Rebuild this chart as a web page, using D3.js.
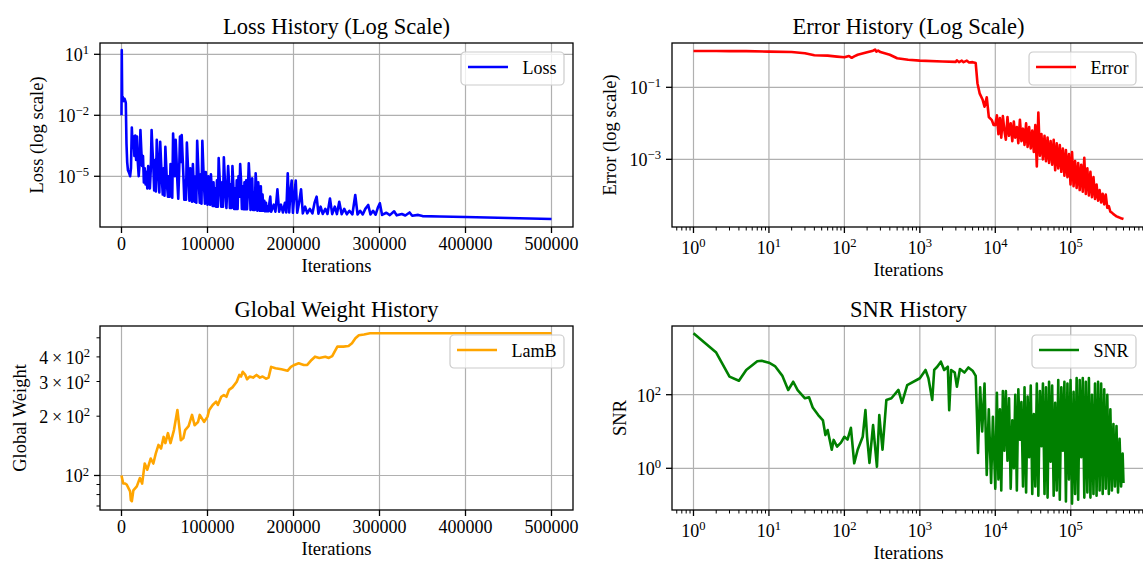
<!DOCTYPE html>
<html>
<head>
<meta charset="utf-8">
<script src="https://cdn.jsdelivr.net/npm/d3@7"></script>
<style>
    body { margin: 0; background: #ffffff; }
    text { font-family: "Liberation Serif", "DejaVu Serif", serif; fill: #000000; }
</style>
</head>
<body>
<svg id="chart" width="1143" height="564"></svg>
<script>

// ---- Loss history (linear x)
var lossIter = [
    0, 300, 800, 1500, 2500, 3500, 4500, 5000, 5800, 6600,
    7500, 8500, 9500,
    10000, 11000, 12000, 13000, 14000, 15000, 16000, 17000, 18000, 19000,
    20000, 21000, 22000, 23000, 24000, 25000, 26000, 27000, 28000, 29000,
    30000, 31000, 32000, 33000, 34000, 35000, 36000, 37000, 38000, 39000,
    40000, 41000, 42000, 43000, 44000, 45000, 46000, 47000, 48000, 49000,
    50000, 51000, 52000, 53000, 54000, 55000, 56000, 57000, 58000, 59000,
    60000, 61000, 62000, 63000, 64000, 65000, 66000, 67000, 68000, 69000,
    70000, 71000, 72000, 73000, 74000, 75000, 76000, 77000, 78000, 79000,
    80000, 81000, 82000, 83000, 84000, 85000, 86000, 87000, 88000, 89000,
    90000, 91000, 92000, 93000, 94000, 95000, 96000, 97000, 98000, 99000,
    100000, 101000, 102000, 103000, 104000, 105000, 106000, 107000, 108000, 109000,
    110000, 111000, 112000, 113000, 114000, 115000, 116000, 117000, 118000, 119000,
    120000, 121000, 122000, 123000, 124000, 125000, 126000, 127000, 128000, 129000,
    130000, 131000, 132000, 133000, 134000, 135000, 136000, 137000, 138000, 139000,
    140000, 141000, 142000, 143000, 144000, 145000, 146000, 147000, 148000, 149000,
    150000, 151000, 152000, 153000, 154000, 155000, 156000, 157000, 158000, 159000,
    160000, 161000, 162000, 163000, 164000, 165000, 166000, 167000, 168000, 169000,
    170000, 171000, 172000, 173000, 174000,
    177000, 179000, 181300, 183300, 185500, 187700, 190000, 191600, 193300, 195000,
    196400, 197900, 199300, 201000, 202600, 204300, 206500, 208800, 210800, 213500,
    216000, 219000, 222000, 224500, 226900, 229000, 231500, 234000, 237000, 239500,
    242400, 245000, 248000, 250500, 253200, 256000, 259000, 262000, 265000, 268500,
    271800, 274500, 277500, 280500, 283500, 286900, 289500, 292500, 295500, 298000,
    300400, 303000, 308000, 312000, 317000, 320000, 326000, 330000, 335000, 338000,
    345000, 350000, 370000, 400000, 450000, 500000
]
var lossVal = [
    1e-2, 16, 0.06, 0.08, 0.05, 0.065, 0.05, 0.04, 4e-4, 5e-5,
    2e-5, 1.6e-5, 1.2e-5,
    1e-5, 2.5e-5, 2.5e-3, 2.5e-4, 8.9e-4, 1e-4, 1e-3, 6.3e-5, 8.9e-4, 5e-5,
    1e-5, 4e-5, 1.9e-3, 2e-4, 3.2e-5, 1e-4, 5e-6, 2.5e-5, 4e-6, 1.6e-5,
    2.5e-6, 3.2e-5, 6.3e-6, 2.5e-6, 2e-5, 1.9e-3, 2e-4, 3.2e-5, 2e-6, 6.3e-5,
    1.8e-6, 6.3e-4, 7.9e-5, 1e-5, 1.6e-6, 5e-4, 5e-5, 6.3e-6, 1.26e-6, 2.5e-5,
    1.1e-6, 2.8e-4, 3.2e-5, 3.2e-6, 1e-6, 1e-5, 1e-6, 4e-5, 2.5e-6, 8.9e-7,
    1.26e-3, 1e-4, 1e-5, 6.3e-4, 6.3e-5, 5e-6, 7.9e-7, 1.6e-5, 8.9e-4, 5e-5,
    1.07e-3, 1e-4, 1e-5, 7.1e-7, 6.3e-6, 7.1e-7, 4.5e-4, 5e-5, 6.3e-6, 6.3e-7,
    2.5e-5, 2.5e-6, 5.6e-7, 4e-5, 3.2e-6, 5.6e-7, 1e-5, 5e-7, 5.6e-4, 5e-5,
    4e-6, 5e-7, 1.26e-5, 4.5e-7, 5.6e-4, 4e-5, 3.2e-6, 4.5e-7, 1.6e-5, 2.5e-6,
    4e-7, 1e-5, 1.6e-6, 4e-7, 1.26e-5, 2e-6, 3.5e-7, 5e-6, 3.5e-7, 2.5e-6,
    3.2e-7, 6.3e-6, 3.2e-7, 7.9e-5, 1e-5, 1.6e-6, 3.2e-7, 5e-6, 3.2e-7, 8.5e-5,
    1e-5, 1.26e-6, 2.8e-7, 3.2e-6, 3.2e-5, 5e-6, 2.8e-7, 4e-6, 2.8e-7, 3.2e-5,
    4e-6, 2.5e-7, 2.5e-6, 2.5e-7, 6.3e-6, 2.5e-7, 1e-5, 1e-6, 4e-5, 6.3e-6,
    2.5e-7, 3.2e-6, 2.4e-7, 5e-6, 2.4e-7, 6.3e-6, 2.4e-7, 2.5e-6, 4.3e-5, 6.3e-6,
    2.2e-7, 3.2e-6, 7.9e-6, 2.2e-7, 1.6e-6, 2.2e-7, 1.4e-5, 2.5e-6, 2e-7, 5e-6,
    1e-6, 2e-7, 3.2e-6, 2e-7, 1.26e-6, 2e-7, 6.3e-7, 1.9e-7, 5e-7, 1.9e-7,
    3.2e-7, 1.9e-7, 5e-7, 1e-6, 1.8e-7,
    4e-7, 1.8e-7, 2.3e-6, 1.8e-7, 4e-7, 1.66e-7, 5e-7, 1.66e-7, 1.4e-5, 1.66e-7,
    1.6e-6, 6.2e-6, 1.6e-7, 1.26e-6, 6.2e-6, 1.6e-7, 5e-7, 2.3e-6, 1.5e-7, 3.2e-7,
    1.5e-7, 2.5e-7, 1.48e-7, 5e-7, 1e-6, 1.45e-7, 3.2e-7, 1.4e-7, 2.5e-7, 1.4e-7,
    8.1e-7, 1.38e-7, 3.2e-7, 1.38e-7, 5.6e-7, 1.35e-7, 2.5e-7, 1.35e-7, 2e-7, 1.35e-7,
    1.2e-6, 1.32e-7, 2e-7, 1.32e-7, 2.5e-7, 3.9e-7, 1.32e-7, 2e-7, 1.29e-7, 2.8e-7,
    4.7e-7, 1.26e-7, 1.6e-7, 1.23e-7, 1.9e-7, 1.2e-7, 1.4e-7, 1.17e-7, 1.66e-7, 1.15e-7,
    1.26e-7, 1.1e-7, 1.05e-7, 1e-7, 8.9e-8, 7.9e-8
]

// ---- shared iteration grid for the noisy tails of the log-x plots
var tailIter = [
    10000, 10500, 11000, 11500, 12000, 12600, 13200, 13800, 14500, 15200,
    16000, 16800, 17600, 18400, 19300, 20200, 21200, 22200, 23300, 24400,
    25600, 26800, 28100, 29500, 30900, 32400, 33900, 35500, 37200, 39000,
    40900, 42800, 44900, 47000, 49300, 51600, 54100, 56700, 59400, 62200,
    65200, 68300, 71600, 75000, 78600, 82400, 86300, 90400, 94800, 99300,
    104000, 109000, 114200, 119700, 125400, 131400, 137700, 144300, 151200, 158400,
    166000, 174000, 182300, 191000, 200100, 209700, 219800, 230300, 241300, 252900,
    265000, 277700, 291000, 305000, 319600, 334900, 351000, 367800, 385400, 403900,
    423300, 443600, 464900, 487200, 500000
]

// ---- Error history (log x)
var errHeadIter = [
    1, 2, 3, 5, 10, 20, 30, 40, 60, 80,
    100, 115, 125, 135, 150, 200, 240, 255, 265, 280,
    300, 400, 500, 700, 1000, 2000, 3000, 3100, 3300, 3600,
    3800, 4200, 4500, 5000, 5500, 5800, 6200, 6800, 7200, 7700,
    8200, 9000, 9500
]
var errHeadVal = [
    1.02, 1.02, 1.01, 1.01, 0.98, 0.96, 0.88, 0.78, 0.76, 0.71,
    0.68, 0.74, 0.66, 0.72, 0.8, 0.94, 1.04, 1.12, 0.98, 1.05,
    0.95, 0.8, 0.64, 0.58, 0.55, 0.52, 0.51, 0.56, 0.5, 0.55,
    0.5, 0.55, 0.49, 0.5, 0.47, 0.13, 0.068, 0.045, 0.029, 0.053,
    0.015, 0.0123, 0.009
]
var errTailVal = [
    8.9e-3, 1.66e-2, 5e-3, 1.4e-2, 4e-3, 1.58e-2, 6.3e-3, 3.5e-3, 1.5e-2, 4.5e-3,
    1e-2, 3.2e-3, 1.12e-2, 4e-3, 7.9e-3, 2.8e-3, 1.26e-2, 3.2e-3, 7.1e-3, 2.5e-3,
    1e-2, 2.2e-3, 7.9e-3, 2e-3, 6.3e-3, 1.6e-3, 8.9e-3, 6.3e-4, 2e-2, 1.26e-3,
    5e-3, 1e-3, 4.5e-3, 8.9e-4, 4e-3, 7.9e-4, 3.2e-3, 7.1e-4, 3.5e-3, 5e-4,
    2.8e-3, 5.6e-4, 2.5e-3, 4.5e-4, 2e-3, 3.5e-4, 1.8e-3, 3.2e-4, 1.4e-3, 2e-4,
    1.6e-3, 1.8e-4, 8.9e-4, 1.6e-4, 7.9e-4, 1.4e-4, 7.1e-4, 1.26e-4, 1.1e-3, 1.1e-4,
    5.6e-4, 1e-4, 4.5e-4, 8.9e-5, 3.2e-4, 7.9e-5, 2e-4, 7.1e-5, 1.4e-4, 6.3e-5,
    1.1e-4, 5.6e-5, 1.05e-4, 4.5e-5, 5e-5, 3.5e-5, 3.3e-5, 3e-5, 2.8e-5, 2.6e-5,
    2.5e-5, 2.4e-5, 2.3e-5, 2.24e-5, 2.2e-5
]

// ---- Global weight history (linear x)
var lamIter = [
    0, 2000, 4300, 6000, 10000, 10900, 12000, 13800, 17800, 21300,
    24000, 27000, 30000, 34000, 37000, 40000, 43000, 46000, 49000, 51000,
    54000, 57000, 61000, 65000, 69000, 72000, 74000, 78000, 82000, 85000,
    89000, 91000, 96000, 100000, 102000, 106000, 110000, 112000, 116000, 119000,
    122000, 125000, 129000, 134000, 137000, 139000, 141000, 144000, 146000, 149000,
    153000, 157000, 161000, 164000, 168000, 171000, 174000, 179000, 186000, 193000,
    197000, 201000, 206000, 212000, 216000, 221000, 225000, 230000, 237000, 241000,
    245000, 251000, 258000, 264000, 268000, 272000, 276000, 282000, 289000, 300000,
    400000, 500000
]
var lamVal = [
    100, 91, 91, 90, 83, 75, 74, 84, 88, 97,
    91, 115, 107, 122, 115, 130, 143, 137, 157, 146,
    164, 146, 170, 215, 151, 155, 170, 178, 203, 180,
    187, 203, 187, 199, 215, 228, 237, 228, 251, 256,
    251, 272, 280, 299, 324, 318, 336, 324, 308, 318,
    314, 324, 314, 318, 310, 314, 356, 350, 346, 340,
    356, 364, 371, 364, 364, 386, 401, 395, 401, 395,
    404, 451, 451, 454, 469, 497, 515, 520, 527, 527,
    527, 527
]

// ---- SNR history (log x)
var snrHeadIter = [
    1, 2, 3, 4, 5, 6, 7, 8, 10, 12,
    15, 18, 21, 24, 30, 34, 38, 45, 52, 56,
    60, 68, 72, 80, 90, 100, 110, 122, 135, 150,
    175, 190, 200, 215, 240, 270, 290, 320, 360, 420,
    520, 580, 680, 1000, 1190, 1300, 1460, 1550, 1700, 1900,
    2100, 2350, 2450, 2600, 2900, 3100, 3400, 3900, 4400, 5000,
    5500, 5700, 5900, 6300, 6700, 7200, 7700, 8200, 8800, 9300
]
var snrHeadVal = [
    4700, 1400, 310, 240, 470, 630, 810, 840, 740, 600,
    330, 134, 225, 134, 80, 85, 45, 28, 20, 8,
    11, 3.2, 5.9, 3.9, 5, 7.2, 6, 12.6, 1.37, 3.2,
    7.2, 38, 7, 1.4, 15, 1.1, 28, 3.2, 72, 80,
    135, 60, 183, 280, 470, 280, 72, 470, 575, 790,
    470, 575, 38, 470, 400, 165, 500, 400, 550, 450,
    325, 31, 2.6, 160, 10, 200, 0.66, 40, 0.4, 25
]
var snrTailVal = [
    0.28, 112, 0.5, 40, 0.25, 126, 3, 126, 1.6, 80,
    0.28, 20, 1, 100, 0.25, 141, 6, 63, 0.32, 158,
    0.22, 89, 2, 178, 0.2, 30, 0.32, 200, 0.18, 126,
    4, 200, 0.2, 158, 0.16, 224, 1.5, 178, 0.18, 60,
    0.25, 251, 0.14, 158, 3, 224, 0.126, 200, 0.5, 251,
    0.11, 120, 0.2, 282, 0.14, 251, 2, 282, 0.16, 224,
    0.22, 282, 0.16, 100, 0.2, 200, 0.18, 224, 0.25, 200,
    0.2, 141, 0.28, 100, 0.2, 40, 0.25, 16, 0.32, 14,
    0.22, 6.3, 0.32, 2.5, 0.4
]

var linTicks = [0, 100000, 200000, 300000, 400000, 500000]
var logXExps = [0, 1, 2, 3, 4, 5]

var svg = d3.select("#chart")

var W = 473, H = 184

var panels = [
    {
        id: "loss", left: 100, top: 43, xType: "lin",
        xDomain: [-25000, 525000], yDomain: [3.2e-8, 36],
        iter: lossIter, val: lossVal, color: "#0000ff",
        title: "Loss History (Log Scale)", ylabel: "Loss (log scale)", ylabelX: 42.5,
        legend: "Loss", yExps: [1, -2, -5]
    },
    {
        id: "err", left: 672, top: 43, xType: "log",
        xDomain: [0.519, 9.64e5], yDomain: [1.32e-5, 1.7],
        iter: errHeadIter.concat(tailIter), val: errHeadVal.concat(errTailVal), color: "#ff0000",
        title: "Error History (Log Scale)", ylabel: "Error (log scale)", ylabelX: 615.5,
        legend: "Error", yExps: [-1, -3]
    },
    {
        id: "lam", left: 100, top: 326, xType: "lin",
        xDomain: [-25000, 525000], yDomain: [66.8, 574],
        iter: lamIter, val: lamVal, color: "#ffa500",
        title: "Global Weight History", ylabel: "Global Weight", ylabelX: 26,
        legend: "LamB", yExps: [2]
    },
    {
        id: "snr", left: 672, top: 326, xType: "log",
        xDomain: [0.519, 9.64e5], yDomain: [0.0736, 7360],
        iter: snrHeadIter.concat(tailIter), val: snrHeadVal.concat(snrTailVal), color: "#008000",
        title: "SNR History", ylabel: "SNR", ylabelX: 626,
        legend: "SNR", yExps: [0, 2]
    }
]

// "10" with a superscript exponent, optional mantissa in front
function powLabel(sel, exp, mant) {
    if (mant) sel.append("tspan").text(mant + "\u2009\u00d7\u2009")
    sel.append("tspan").text("10")
    sel.append("tspan")
       .attr("font-size", "0.7em")
       .attr("dy", "-0.55em")
       .text(exp < 0 ? "\u2212" + (-exp) : exp)
}

panels.forEach(function(p) {
    var g = svg.append("g")
    var bottom = p.top + H

    var x = p.xType == "lin"
        ? d3.scaleLinear().domain(p.xDomain).range([p.left, p.left + W])
        : d3.scaleLog().domain(p.xDomain).range([p.left, p.left + W])
    var y = d3.scaleLog().domain(p.yDomain).range([bottom, p.top])

    var xMajor = p.xType == "lin" ? linTicks : logXExps.map(e => Math.pow(10, e))
    var yMajor = p.yExps.map(e => Math.pow(10, e))

    g.append("clipPath").attr("id", "clip-" + p.id)
     .append("rect")
     .attr("x", p.left).attr("y", p.top)
     .attr("width", W).attr("height", H)

    // grid
    g.append("g").selectAll("line")
     .data(xMajor).enter().append("line")
     .attr("x1", d => x(d)).attr("x2", d => x(d))
     .attr("y1", p.top).attr("y2", bottom)
     .attr("stroke", "#b0b0b0").attr("stroke-width", 1.2)
    g.append("g").selectAll("line")
     .data(yMajor).enter().append("line")
     .attr("x1", p.left).attr("x2", p.left + W)
     .attr("y1", d => y(d)).attr("y2", d => y(d))
     .attr("stroke", "#b0b0b0").attr("stroke-width", 1.2)

    // series
    var line = d3.line()
                 .x(d => x(d[0]))
                 .y(d => y(d[1]))
    g.append("path")
     .datum(d3.zip(p.iter, p.val))
     .attr("clip-path", "url(#clip-" + p.id + ")")
     .attr("d", line)
     .attr("fill", "none")
     .attr("stroke", p.color)
     .attr("stroke-width", 2.6)
     .attr("stroke-linejoin", "round")

    // frame
    g.append("rect")
     .attr("x", p.left).attr("y", p.top)
     .attr("width", W).attr("height", H)
     .attr("fill", "none")
     .attr("stroke", "#000").attr("stroke-width", 1.3)

    // x ticks
    g.append("g").selectAll("line")
     .data(xMajor).enter().append("line")
     .attr("x1", d => x(d)).attr("x2", d => x(d))
     .attr("y1", bottom).attr("y2", bottom + 6)
     .attr("stroke", "#000").attr("stroke-width", 1.3)

    if (p.xType == "log") {
        var minor = x.ticks().filter(d => Math.abs(Math.log10(d) - Math.round(Math.log10(d))) > 1e-6)
        g.append("g").selectAll("line")
         .data(minor).enter().append("line")
         .attr("x1", d => x(d)).attr("x2", d => x(d))
         .attr("y1", bottom).attr("y2", bottom + 3.5)
         .attr("stroke", "#000").attr("stroke-width", 1)

        logXExps.forEach(function(e) {
            var t = g.append("text")
                     .attr("x", x(Math.pow(10, e)))
                     .attr("y", bottom + 27)
                     .attr("text-anchor", "middle")
                     .style("font-size", "18px")
            powLabel(t, e)
        })
    } else {
        g.append("g").selectAll("text")
         .data(linTicks).enter().append("text")
         .attr("x", d => x(d))
         .attr("y", bottom + 22.5)
         .attr("text-anchor", "middle")
         .style("font-size", "18px")
         .text(d => d)
    }

    // y ticks
    g.append("g").selectAll("line")
     .data(yMajor).enter().append("line")
     .attr("x1", p.left - 6).attr("x2", p.left)
     .attr("y1", d => y(d)).attr("y2", d => y(d))
     .attr("stroke", "#000").attr("stroke-width", 1.3)

    p.yExps.forEach(function(e) {
        var t = g.append("text")
                 .attr("x", p.left - 11)
                 .attr("y", y(Math.pow(10, e)) + 7)
                 .attr("text-anchor", "end")
                 .style("font-size", "18px")
        powLabel(t, e)
    })

    if (p.id == "lam") {
        var yMinor = y.ticks().filter(d => d != 100)
        g.append("g").selectAll("line")
         .data(yMinor).enter().append("line")
         .attr("x1", p.left - 3.5).attr("x2", p.left)
         .attr("y1", d => y(d)).attr("y2", d => y(d))
         .attr("stroke", "#000").attr("stroke-width", 1)
        ;[2, 3, 4].forEach(function(m) {
            var t = g.append("text")
                     .attr("x", p.left - 10)
                     .attr("y", y(m * 100) + 7)
                     .attr("text-anchor", "end")
                     .style("font-size", "18px")
            powLabel(t, 2, m)
        })
    }

    // axis labels and title
    g.append("text")
     .attr("x", p.left + W / 2)
     .attr("y", bottom + (p.xType == "log" ? 49 : 44.5))
     .attr("text-anchor", "middle")
     .style("font-size", "18.5px")
     .text("Iterations")

    g.append("text")
     .attr("transform", "translate(" + p.ylabelX + "," + (p.top + H / 2) + ") rotate(-90)")
     .attr("text-anchor", "middle")
     .style("font-size", "18.5px")
     .text(p.ylabel)

    g.append("text")
     .attr("x", p.left + W / 2)
     .attr("y", p.top - 9)
     .attr("text-anchor", "middle")
     .style("font-size", "22.5px")
     .text(p.title)

    // legend
    var lg = g.append("g")
    var box = lg.append("rect")
    lg.append("line")
      .attr("x1", 7).attr("x2", 47)
      .attr("y1", 15).attr("y2", 15)
      .attr("stroke", p.color).attr("stroke-width", 2.6)
    var lt = lg.append("text")
               .attr("x", 61.5).attr("y", 21.5)
               .style("font-size", "18px")
               .text(p.legend)
    var lw = 61.5 + lt.node().getComputedTextLength() + 7.5
    box.attr("width", lw).attr("height", 33)
       .attr("rx", 4)
       .attr("fill", "#fff").attr("fill-opacity", 0.8)
       .attr("stroke", "#cccccc").attr("stroke-width", 1.2)
    lg.attr("transform", "translate(" + (p.left + W - 9 - lw) + "," + (p.top + 9) + ")")
})

</script>
</body>
</html>
